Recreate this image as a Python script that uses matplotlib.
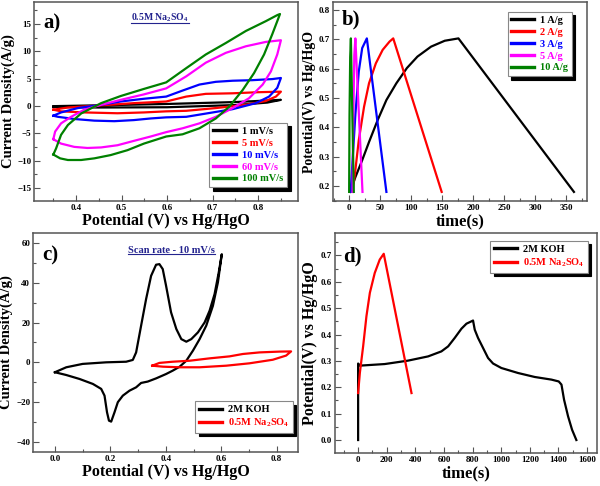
"""Four-panel electrochemistry figure: CV and GCD curves (a-d)."""

import matplotlib

matplotlib.use("Agg")
import matplotlib.pyplot as plt
from matplotlib.lines import Line2D
from matplotlib.ticker import MultipleLocator

plt.rcParams.update({
	"font.family": ["Liberation Serif", "DejaVu Serif"],
	"font.weight": "bold",
	"axes.labelweight": "bold",
	"mathtext.fontset": "custom",
	"mathtext.rm": "Liberation Serif:bold",
	"mathtext.it": "Liberation Serif:bold",
	"mathtext.bf": "Liberation Serif:bold",
	"mathtext.default": "rm",
})

# ---- panel a: CV of 0.5M Na2SO4 at several scan rates (upper branch then return) ----
a_labels = ["1 mV/s", "5 mV/s", "10 mV/s", "60 mV/s", "100 mV/s"]
a_colors = ["black", "red", "blue", "magenta", "green"]

cv1_v = [0.35, 0.45, 0.60, 0.75, 0.85, 0.82, 0.75, 0.60, 0.45, 0.35]
cv1_i = [-0.05, 0.1, 0.35, 0.7, 1.1, 0.6, 0.15, -0.25, -0.3, -0.2]

cv5_v = [0.350, 0.382, 0.455, 0.527, 0.598, 0.642, 0.685, 0.744, 0.800, 0.850,
		 0.839, 0.817, 0.773, 0.707, 0.642, 0.598, 0.549, 0.491, 0.418, 0.367, 0.350]
cv5_i = [-0.7, -0.3, 0.1, 0.5, 0.8, 1.7, 2.2, 2.3, 2.5, 2.6,
		 1.7, 0.9, 0.2, -0.4, -0.9, -1.0, -1.2, -1.35, -1.2, -1.0, -0.7]

cv10_v = [0.350, 0.367, 0.404, 0.455, 0.498, 0.549, 0.598, 0.634, 0.671, 0.707, 0.744, 0.787, 0.831, 0.850,
		  0.842, 0.824, 0.795, 0.744, 0.693, 0.642, 0.598, 0.564, 0.527, 0.484, 0.440, 0.396, 0.360, 0.350]
cv10_i = [-1.8, -1.2, -0.4, 0.2, 0.8, 1.3, 1.7, 2.8, 3.9, 4.4, 4.6, 4.7, 4.9, 5.1,
		  3.3, 1.7, 0.5, -0.6, -1.3, -2.0, -2.1, -2.3, -2.6, -2.8, -2.7, -2.4, -2.0, -1.8]

cv60_v = [0.350, 0.354, 0.367, 0.389, 0.418, 0.455, 0.498, 0.549, 0.598, 0.642, 0.685, 0.729, 0.773, 0.817, 0.850,
		  0.842, 0.828, 0.810, 0.780, 0.744, 0.707, 0.671, 0.634, 0.598, 0.564, 0.527, 0.491, 0.455, 0.425, 0.396, 0.367, 0.350]
cv60_i = [-6.1, -4.7, -3.2, -2.0, -0.7, 0.2, 1.1, 2.1, 3.2, 5.4, 7.9, 9.7, 10.9, 11.7, 12.0,
		  9.4, 6.3, 3.9, 1.4, -0.4, -2.0, -3.2, -4.1, -4.8, -5.6, -6.4, -7.2, -7.6, -7.7, -7.5, -6.9, -6.1]

cv100_v = [0.350, 0.356, 0.367, 0.382, 0.411, 0.455, 0.498, 0.549, 0.598, 0.642, 0.685, 0.729, 0.773, 0.817, 0.842, 0.848,
		   0.831, 0.813, 0.791, 0.766, 0.737, 0.707, 0.671, 0.634, 0.598, 0.549, 0.513, 0.476, 0.440, 0.411, 0.382, 0.365, 0.350]
cv100_i = [-8.9, -7.8, -5.3, -3.5, -1.4, 0.5, 1.8, 3.1, 4.3, 6.9, 9.4, 11.5, 13.7, 15.5, 16.6, 16.8,
		   13.1, 9.4, 6.0, 2.9, -0.1, -2.3, -4.1, -5.2, -5.6, -6.9, -8.1, -9.0, -9.6, -9.9, -9.9, -9.6, -8.9]

# ---- panel b: charge/discharge at several current densities ----
b_labels = ["1 A/g", "2 A/g", "3 A/g", "5 A/g", "10 A/g"]
b_colors = ["black", "red", "blue", "magenta", "green"]

gcd1_t = [1.7, 10, 21, 32, 46, 60, 76, 93, 110, 132, 154, 176, 362]
gcd1_v = [0.18, 0.23, 0.288, 0.35, 0.425, 0.493, 0.55, 0.602, 0.641, 0.675, 0.695, 0.703, 0.18]
gcd2_t = [5.5, 10, 15.5, 24, 32, 43, 54, 65, 71, 149]
gcd2_v = [0.18, 0.254, 0.356, 0.47, 0.55, 0.618, 0.664, 0.692, 0.703, 0.18]
gcd3_t = [2.5, 4.4, 10, 15.5, 21, 28.5, 60]
gcd3_v = [0.18, 0.249, 0.443, 0.59, 0.67, 0.703, 0.18]
gcd5_t = [5.5, 6.6, 8.3, 10, 21.5]
gcd5_v = [0.18, 0.418, 0.646, 0.703, 0.18]
gcd10_t = [0.0, 0.6, 1.7, 2.8, 7.5]
gcd10_v = [0.18, 0.44, 0.64, 0.703, 0.18]

# ---- panel c: CV at 10 mV/s in two electrolytes ----
c_labels = ["2M KOH", "0.5M Na$_2$SO$_4$"]
koh_cv_v = [0.000, 0.041, 0.100, 0.185, 0.257, 0.281, 0.293, 0.311, 0.329, 0.347, 0.365, 0.377, 0.389,
			0.401, 0.419, 0.438, 0.456, 0.474, 0.492, 0.516, 0.540, 0.558, 0.576, 0.591, 0.602,
			0.588, 0.570, 0.546, 0.522, 0.498, 0.474, 0.450, 0.425, 0.401, 0.365, 0.335, 0.311,
			0.293, 0.269, 0.245, 0.227, 0.215, 0.203, 0.195, 0.188, 0.179, 0.167, 0.137, 0.089, 0.041, 0.000]
koh_cv_i = [-5.0, -2.5, -0.8, 0.0, 0.3, 1.2, 5.0, 18.5, 31.9, 43.6, 49.2, 49.5, 47.0,
			38.6, 25.2, 16.8, 11.7, 10.4, 11.7, 15.1, 20.1, 26.0, 34.4, 45.3, 54.5,
			40.3, 28.5, 18.5, 11.7, 5.9, 0.8, -2.2, -4.2, -5.9, -8.1, -9.7, -10.4,
			-12.6, -14.3, -16.8, -20.1, -25.2, -29.9, -29.4, -25.2, -16.8, -13.4, -10.9, -8.4, -6.4, -5.0]
na_cv_v = [0.351, 0.377, 0.425, 0.486, 0.558, 0.630, 0.678, 0.738, 0.810, 0.852,
		   0.834, 0.786, 0.702, 0.618, 0.522, 0.450, 0.390, 0.351]
na_cv_i = [-1.7, -0.3, 0.3, 0.8, 2.0, 3.0, 4.2, 5.0, 5.4, 5.5,
		   3.4, 1.3, -0.5, -1.7, -2.5, -2.5, -2.2, -1.7]

# ---- panel d: charge/discharge in two electrolytes ----
koh_gcd_t = [0, 0, 12, 186, 349, 489, 582, 629, 675, 722, 757, 792, 803,
			 815, 838, 873, 908, 943, 1001, 1118, 1234, 1351, 1402, 1421, 1439, 1467, 1495, 1525]
koh_gcd_v = [0.0, 0.29, 0.282, 0.288, 0.301, 0.317, 0.336, 0.355, 0.387, 0.422, 0.441, 0.45, 0.453,
			 0.418, 0.387, 0.349, 0.311, 0.29, 0.273, 0.254, 0.239, 0.229, 0.222, 0.21, 0.153, 0.09, 0.039, 0.0]
na_gcd_t = [0, 12, 35, 58, 82, 116, 151, 179, 373]
na_gcd_v = [0.178, 0.254, 0.355, 0.469, 0.558, 0.633, 0.684, 0.706, 0.178]

LW = 1.6
SPINE = "#555555"
NOTE = "#23238e"


def style(ax, xmaj, xmin, ymaj, ymin):
	ax.xaxis.set_major_locator(MultipleLocator(xmaj))
	ax.xaxis.set_minor_locator(MultipleLocator(xmin))
	ax.yaxis.set_major_locator(MultipleLocator(ymaj))
	ax.yaxis.set_minor_locator(MultipleLocator(ymin))
	ax.tick_params(which="both", direction="in", labelsize=6.5, pad=2, color=SPINE, width=0.8)
	ax.tick_params(which="major", length=4)
	ax.tick_params(which="minor", length=2)
	for s in ax.spines.values():
		s.set_color(SPINE)
		s.set_linewidth(1.1)


def legend(ax, loc, anchor, fs=7.5):
	leg = ax.legend(loc=loc, bbox_to_anchor=anchor, borderaxespad=0, fontsize=fs,
					fancybox=False, framealpha=1, edgecolor="#888888",
					shadow={"ox": 2.5, "oy": -2.5, "color": "black", "alpha": 1},
					handlelength=2.2, handletextpad=0.6, labelspacing=0.25, borderpad=0.35)
	leg.get_frame().set_linewidth(0.8)
	for txt, ln in zip(leg.get_texts(), leg.get_lines()):
		txt.set_color(ln.get_color())
		ln.set_linewidth(2.4)
	return leg


def underline(fig, txt):
	fig.canvas.draw()
	bb = txt.get_window_extent()
	w, h = fig.bbox.width, fig.bbox.height
	fig.add_artist(Line2D([bb.x0 / w, bb.x1 / w], [(bb.y0 + 1) / h] * 2,
						  transform=fig.transFigure, color=txt.get_color(), lw=0.8))


fig = plt.figure(figsize=(6.0, 4.86), dpi=100)
ax_a = fig.add_axes([0.057, 0.5864, 0.44, 0.4095])
ax_b = fig.add_axes([0.555, 0.5864, 0.4233, 0.4095])
ax_c = fig.add_axes([0.055, 0.070, 0.4417, 0.4506])
ax_d = fig.add_axes([0.558, 0.068, 0.4367, 0.4527])

# a)
for v, i, c, lab in zip([cv1_v, cv5_v, cv10_v, cv60_v, cv100_v],
						[cv1_i, cv5_i, cv10_i, cv60_i, cv100_i], a_colors, a_labels):
	ax_a.plot(v, i, color=c, lw=LW, label=lab)
ax_a.set_xlim(0.308, 0.888)
ax_a.set_ylim(-17.4, 19)
style(ax_a, 0.1, 0.05, 5, 2.5)
ax_a.set_xlabel("Potential (V) vs Hg/HgO", fontsize=11.5, labelpad=1)
ax_a.set_ylabel("Current Density(A/g)", fontsize=10.5, labelpad=2)
legend(ax_a, "lower right", (0.958, 0.070))
ax_a.text(0.034, 0.894, "a)", transform=ax_a.transAxes, fontsize=15, va="center", ha="left")
note_a = ax_a.text(0.477, 0.92, "0.5M Na$_2$SO$_4$", transform=ax_a.transAxes, fontsize=7,
				   color=NOTE, ha="center", va="center")

# b)
for t, v, c, lab in zip([gcd1_t, gcd2_t, gcd3_t, gcd5_t, gcd10_t],
						[gcd1_v, gcd2_v, gcd3_v, gcd5_v, gcd10_v], b_colors, b_labels):
	ax_b.plot(t, v, color=c, lw=LW, label=lab)
ax_b.set_xlim(-26, 383)
ax_b.set_ylim(0.149, 0.827)
style(ax_b, 50, 25, 0.1, 0.05)
ax_b.set_xlabel("time(s)", fontsize=12, labelpad=1)
ax_b.set_ylabel("Potential(V) vs Hg/HgO", fontsize=10, labelpad=2)
legend(ax_b, "upper right", (0.941, 0.95))
ax_b.text(0.035, 0.91, "b)", transform=ax_b.transAxes, fontsize=15, va="center", ha="left")

# c)
ax_c.plot(koh_cv_v, koh_cv_i, color="black", lw=LW, label=c_labels[0])
ax_c.plot(na_cv_v, na_cv_i, color="red", lw=LW, label=c_labels[1])
ax_c.set_xlim(-0.079, 0.877)
ax_c.set_ylim(-45.2, 65.2)
style(ax_c, 0.2, 0.1, 20, 10)
ax_c.set_xlabel("Potential (V) vs Hg/HgO", fontsize=11.5, labelpad=1)
ax_c.set_ylabel("Current Density(A/g)", fontsize=10.5, labelpad=2)
legend(ax_c, "lower right", (0.981, 0.087))
ax_c.text(0.034, 0.895, "c)", transform=ax_c.transAxes, fontsize=15, va="center", ha="left")
note_c = ax_c.text(0.521, 0.922, "Scan rate - 10 mV/s", transform=ax_c.transAxes, fontsize=7.5,
				   color=NOTE, ha="center", va="center")

# d)
ax_d.plot(koh_gcd_t, koh_gcd_v, color="black", lw=LW, label=c_labels[0])
ax_d.plot(na_gcd_t, na_gcd_v, color="red", lw=LW, label=c_labels[1])
ax_d.set_xlim(-163, 1668)
ax_d.set_ylim(-0.049, 0.785)
style(ax_d, 200, 100, 0.1, 0.05)
ax_d.set_xlabel("time(s)", fontsize=12, labelpad=1)
ax_d.set_ylabel("Potential(V) vs Hg/HgO", fontsize=11.5, labelpad=2)
legend(ax_d, "upper right", (0.966, 0.964))
ax_d.text(0.03, 0.895, "d)", transform=ax_d.transAxes, fontsize=15, va="center", ha="left")

underline(fig, note_a)
underline(fig, note_c)

fig.savefig("out.png", dpi=100)
